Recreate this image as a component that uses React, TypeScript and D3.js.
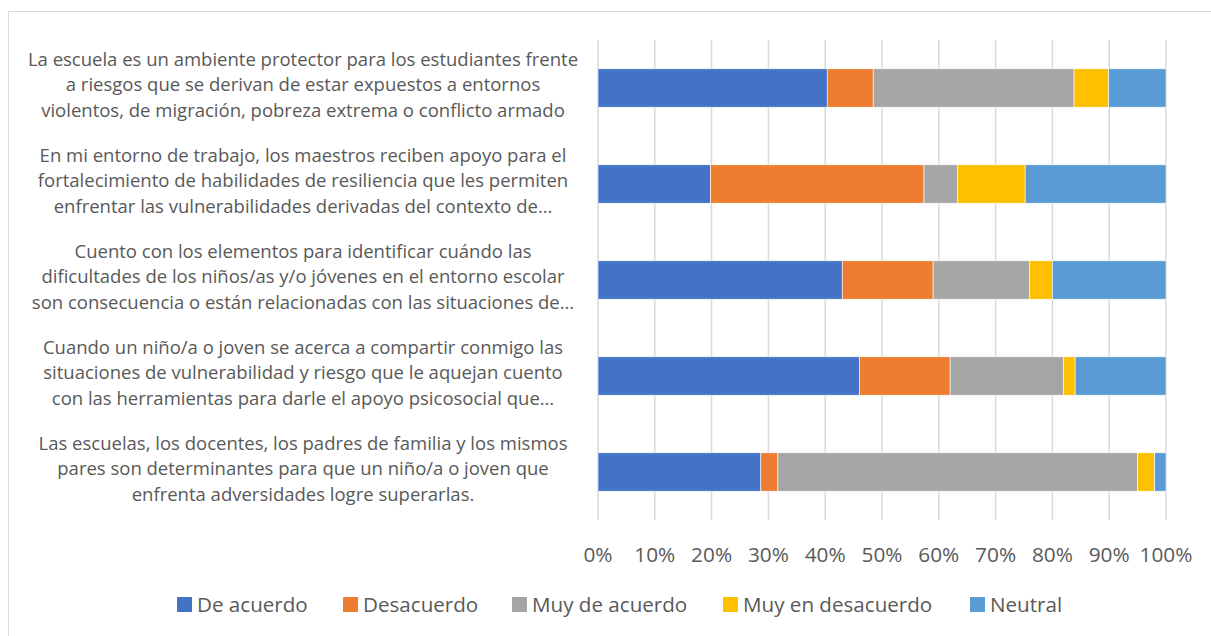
import { useEffect, useRef } from "react";
import * as d3 from "d3";

const categories = [
  "La escuela es un ambiente protector para los estudiantes frente|a riesgos que se derivan de estar expuestos a entornos|violentos, de migración, pobreza extrema o conflicto armado",
  "En mi entorno de trabajo, los maestros reciben apoyo para el|fortalecimiento de habilidades de resiliencia que les permiten|enfrentar las vulnerabilidades derivadas del contexto de…",
  "Cuento con los elementos para identificar cuándo las|dificultades de los niños/as y/o jóvenes en el entorno escolar|son consecuencia o están relacionadas con las situaciones de…",
  "Cuando un niño/a o joven se acerca a compartir conmigo las|situaciones de vulnerabilidad y riesgo que le aquejan cuento|con las herramientas para darle el apoyo psicosocial que…",
  "Las escuelas, los docentes, los padres de familia y los mismos|pares son determinantes para que un niño/a o joven que|enfrenta adversidades logre superarlas.",
];

const seriesNames = ["De acuerdo", "Desacuerdo", "Muy de acuerdo", "Muy en desacuerdo", "Neutral"];
const seriesColors = ["#4472C4", "#ED7D31", "#A5A5A5", "#FFC000", "#5B9BD5"];

// percentages per category, in series order
const deAcuerdo = [40.4, 19.8, 43, 46, 28.7];
const desacuerdo = [8.1, 37.6, 16, 16, 3.0];
const muyDeAcuerdo = [35.4, 5.9, 17, 20, 63.4];
const muyEnDesacuerdo = [6.1, 11.9, 4, 2, 3.0];
const neutral = [10.1, 24.8, 20, 16, 2.0];

const tickValues = [0, 0.1, 0.2, 0.3, 0.4, 0.5, 0.6, 0.7, 0.8, 0.9, 1];

export default function App() {
  const ref = useRef<SVGSVGElement>(null);

  useEffect(() => {
    const width = 1211;
    const height = 636;
    const margin = { top: 40, right: 45, bottom: 116, left: 598 };

    const svg = d3.select(ref.current);
    svg.selectAll("*").remove();

    const font = "Open Sans, sans-serif";
    const textColor = "#595959";

    // chart frame
    svg.append("rect")
      .attr("x", 8.5)
      .attr("y", 11.5)
      .attr("width", width + 20)
      .attr("height", height + 20)
      .attr("fill", "white")
      .attr("stroke", "#d9d9d9")
      .attr("stroke-width", 1);

    const data = categories.map((c, i) => ({
      cat: c,
      "De acuerdo": deAcuerdo[i],
      "Desacuerdo": desacuerdo[i],
      "Muy de acuerdo": muyDeAcuerdo[i],
      "Muy en desacuerdo": muyEnDesacuerdo[i],
      "Neutral": neutral[i],
    }));

    const stack = d3.stack<any>().keys(seriesNames).offset(d3.stackOffsetExpand);
    const layers = stack(data);

    const x = d3.scaleLinear().domain([0, 1]).range([margin.left, width - margin.right]);
    const y = d3.scaleBand()
      .domain(categories)
      .range([margin.top, height - margin.bottom])
      .paddingInner(0.6)
      .paddingOuter(0.3);

    // grid
    svg.append("g")
      .selectAll("line")
      .data(tickValues)
      .enter()
      .append("line")
      .attr("x1", (d) => x(d))
      .attr("x2", (d) => x(d))
      .attr("y1", margin.top)
      .attr("y2", height - margin.bottom)
      .attr("stroke", "#d9d9d9")
      .attr("stroke-width", 1.5);

    // bars
    svg.append("g")
      .selectAll("g")
      .data(layers)
      .enter()
      .append("g")
      .attr("fill", (_d, i) => seriesColors[i])
      .selectAll("rect")
      .data((d) => d)
      .enter()
      .append("rect")
      .attr("x", (d) => x(d[0]))
      .attr("width", (d) => x(d[1]) - x(d[0]))
      .attr("y", (d) => y(d.data.cat)!)
      .attr("height", y.bandwidth())
      .attr("stroke", "white")
      .attr("stroke-width", 0.6);

    // x tick labels
    svg.append("g")
      .selectAll("text")
      .data(tickValues)
      .enter()
      .append("text")
      .attr("x", (d) => x(d))
      .attr("y", height - margin.bottom + 42)
      .attr("text-anchor", "middle")
      .attr("font-family", font)
      .attr("font-size", 20.8)
      .attr("fill", textColor)
      .text(d3.format(".0%"));

    // category labels
    const labelG = svg.append("g");
    categories.forEach((c) => {
      const lines = c.split("|");
      const cy = y(c)! + y.bandwidth() / 2;
      const t = labelG.append("text")
        .attr("text-anchor", "middle")
        .attr("font-family", font)
        .attr("font-size", 18.5)
        .attr("fill", textColor);
      lines.forEach((ln, j) => {
        t.append("tspan")
          .attr("x", 303)
          .attr("y", cy + (j - (lines.length - 1) / 2) * 25.5 + 3)
          .text(ln);
      });
    });

    // legend
    const legendX = [177, 343, 512, 723, 970];
    const legend = svg.append("g");
    seriesNames.forEach((s, i) => {
      legend.append("rect")
        .attr("x", legendX[i])
        .attr("y", 597)
        .attr("width", 15)
        .attr("height", 15)
        .attr("fill", seriesColors[i]);
      legend.append("text")
        .attr("x", legendX[i] + 20)
        .attr("y", 612)
        .attr("font-family", font)
        .attr("font-size", 20.6)
        .attr("fill", textColor)
        .text(s);
    });
  }, []);

  return (
    <svg
      ref={ref}
      width={1211}
      height={636}
      style={{ position: "absolute", left: 0, top: 0, display: "block", background: "white" }}
    />
  );
}
